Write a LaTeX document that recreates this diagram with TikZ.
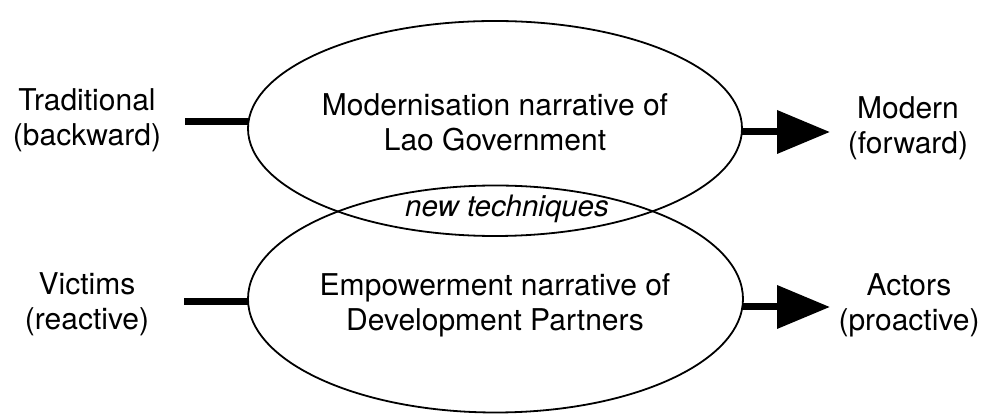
\documentclass[tikz,border=0pt]{standalone}
\usepackage{fontspec}
\setmainfont{TeX Gyre Heros}
\usetikzlibrary{arrows.meta,shapes.geometric}
\begin{document}
\begin{tikzpicture}[x=1pt,y=1pt,
  lbl/.style={font=\fontsize{30}{35}\selectfont, align=center, inner sep=0pt, anchor=north},
  oval/.style={ellipse, draw, line width=1.8pt, inner sep=0pt, outer sep=0pt},
  bar/.style={line width=7pt},
  arr/.style={line width=7pt, -{Triangle[length=53pt,width=42pt]}}]
\useasboundingbox (0,0) rectangle (986,417);
% ellipses
\node[oval, minimum width=494pt, minimum height=215pt] (top) at (495,288.5) {};
\node[oval, minimum width=495pt, minimum height=227pt] (bot) at (495.5,118) {};
% ellipse texts
\node[lbl] (toptxt) at (495,323.5) {Modernisation narrative of\\Lao Government};
\node[lbl] (bottxt) at (495,143.5) {Empowerment narrative of\\Development Partners};
\node[inner sep=0pt, anchor=base, font=\fontsize{29.5}{35}\selectfont\itshape] (nt) at (507,200) {new techniques};
% side labels
\node[lbl] (trad) at (87,328.7) {Traditional\\(backward)};
\node[lbl] (mod) at (908,320.7) {Modern\\(forward)};
\node[lbl] (vic) at (87,144.5) {Victims\\(reactive)};
\node[lbl] (act) at (909,143.5) {Actors\\(proactive)};
% connectors
\coordinate (tl) at (185,295);
\coordinate (tr) at (830,285);
\coordinate (bl) at (184,115);
\coordinate (br) at (830,110);
\draw[bar] (tl) -- (tl -| top.west);
\draw[arr] (tr -| top.east) -- (tr);
\draw[bar] (bl) -- (bl -| bot.west);
\draw[arr] (br -| bot.east) -- (br);
\end{tikzpicture}
\end{document}
